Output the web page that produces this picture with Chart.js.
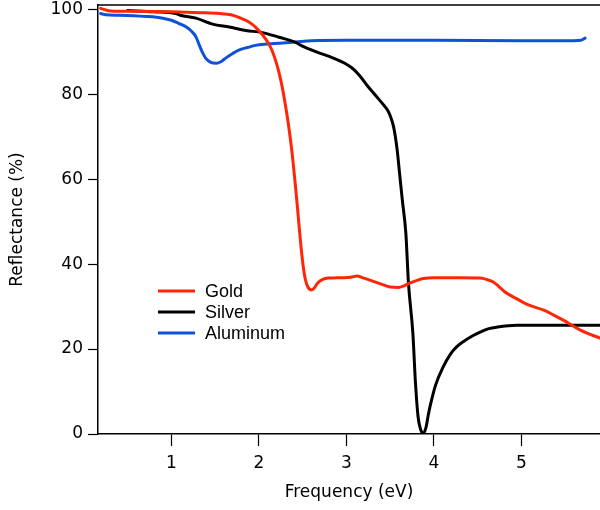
<!DOCTYPE html>
<html>
<head>
<meta charset="utf-8">
<script src="https://cdn.jsdelivr.net/npm/chart.js@4.4.1/dist/chart.umd.min.js"></script>
<style>
  html, body { margin: 0; padding: 0; background: #fff; }
  #wrap { width: 600px; height: 510px; }
</style>
</head>
<body>
<div id="wrap"><canvas id="myChart" width="600" height="510"></canvas></div>
<script>
// reflectance curves, photon energy in eV vs reflectance in %
const goldEv = [0.19, 0.3, 0.6, 1.0, 1.34, 1.55, 1.68, 1.78, 1.85, 1.92, 1.96, 2.04, 2.1, 2.15, 2.2, 2.24, 2.27, 2.3, 2.34, 2.38, 2.41, 2.44, 2.47, 2.50, 2.53, 2.56, 2.60, 2.63, 2.67, 2.73, 2.79, 2.95, 3.05, 3.12, 3.2, 3.3, 3.4, 3.5, 3.6, 3.65, 3.72, 3.8, 3.88, 4.0, 4.3, 4.53, 4.6, 4.68, 4.75, 4.81, 4.87, 4.95, 5.02, 5.12, 5.25, 5.37, 5.48, 5.58, 5.67, 5.78, 5.9];
const goldR = [100.2, 99.6, 99.5, 99.4, 99.2, 99.0, 98.7, 98.0, 97.4, 96.5, 95.8, 94.0, 92.3, 90.3, 87.3, 84.2, 81.3, 77.8, 72.5, 66, 60, 53.5, 46.5, 40.5, 36.5, 34.6, 33.9, 34.3, 35.5, 36.4, 36.7, 36.8, 36.9, 37.2, 36.7, 36.0, 35.3, 34.6, 34.5, 34.8, 35.5, 36.1, 36.6, 36.8, 36.8, 36.7, 36.4, 35.8, 34.6, 33.5, 32.7, 31.8, 31.0, 30.1, 29.2, 28.0, 26.8, 25.6, 24.5, 23.5, 22.6];

const silverEv = [0.5, 0.8, 1.05, 1.1, 1.28, 1.47, 1.66, 1.85, 2.04, 2.23, 2.42, 2.48, 2.65, 2.85, 3.05, 3.15, 3.24, 3.33, 3.42, 3.47, 3.5, 3.54, 3.58, 3.61, 3.64, 3.68, 3.71, 3.76, 3.79, 3.82, 3.85, 3.88, 3.91, 3.94, 3.98, 4.02, 4.1, 4.19, 4.26, 4.34, 4.45, 4.53, 4.63, 4.73, 4.85, 4.95, 5.3, 5.9];
const silverR = [99.7, 99.4, 99.0, 98.6, 97.9, 96.5, 95.8, 95.0, 94.5, 93.4, 92.2, 91.5, 90.0, 88.5, 86.4, 84.4, 82.0, 79.8, 77.6, 76.3, 75.0, 72.3, 67, 61, 55, 47.3, 35.5, 23.8, 12, 4, 1, 0.2, 1.5, 4.9, 8.5, 11.5, 15.5, 18.8, 20.5, 21.8, 23.2, 24.0, 24.8, 25.2, 25.5, 25.6, 25.6, 25.6];

const aluminumEv = [0.19, 0.25, 0.4, 0.71, 0.9, 1.0, 1.08, 1.17, 1.24, 1.28, 1.31, 1.35, 1.39, 1.45, 1.51, 1.57, 1.62, 1.7, 1.77, 1.87, 1.96, 2.1, 2.23, 2.42, 2.6, 3.0, 4.0, 5.0, 5.6, 5.68, 5.73];
const aluminumR = [99.0, 98.7, 98.6, 98.3, 97.9, 97.4, 96.7, 95.8, 94.6, 93.5, 92.0, 90.0, 88.5, 87.5, 87.3, 87.7, 88.5, 89.6, 90.4, 91.0, 91.5, 91.8, 92.0, 92.3, 92.6, 92.7, 92.7, 92.6, 92.6, 92.7, 93.2];

const xTicks = [1, 2, 3, 4, 5];
const yTicks = [0, 20, 40, 60, 80, 100];

const toPoints = (xs, ys) => xs.map((x, i) => ({ x: x, y: ys[i] }));

const tickFont = { family: 'DejaVu Sans', size: 17 };

// hand-placed legend plus the frame line along the top of the plot
const extras = {
  id: 'extras',
  afterDraw(chart) {
    const ctx = chart.ctx;
    const area = chart.chartArea;
    ctx.save();
    ctx.strokeStyle = '#000';
    ctx.lineWidth = 1.5;
    ctx.beginPath();
    ctx.moveTo(area.left, area.top);
    ctx.lineTo(area.right, area.top);
    ctx.stroke();

    ctx.font = '18px "Liberation Sans"';
    ctx.textBaseline = 'middle';
    chart.data.datasets.forEach((ds, i) => {
      const y = 291 + i * 21;
      ctx.strokeStyle = ds.borderColor;
      ctx.lineWidth = 3;
      ctx.beginPath();
      ctx.moveTo(158, y);
      ctx.lineTo(195, y);
      ctx.stroke();
      ctx.fillStyle = '#000';
      ctx.fillText(ds.label, 205, y + 1);
    });
    ctx.restore();
  }
};

const ctx = document.getElementById('myChart').getContext('2d');
const myChart = new Chart(ctx, {
  type: 'line',
  data: {
    datasets: [
      { label: 'Gold', data: toPoints(goldEv, goldR), borderColor: 'rgb(255, 38, 8)' },
      { label: 'Silver', data: toPoints(silverEv, silverR), borderColor: 'rgb(0, 0, 0)' },
      { label: 'Aluminum', data: toPoints(aluminumEv, aluminumR), borderColor: 'rgb(16, 82, 214)' }
    ]
  },
  options: {
    responsive: false,
    animation: false,
    layout: { padding: { top: 5, right: 0, left: 0, bottom: 0 } },
    elements: {
      point: { radius: 0 },
      line: { borderWidth: 3, cubicInterpolationMode: 'monotone', borderCapStyle: 'round', borderJoinStyle: 'round' }
    },
    plugins: { legend: { display: false }, tooltip: { enabled: false } },
    scales: {
      x: {
        type: 'linear',
        min: 0.16,
        max: 5.9,
        afterBuildTicks: s => { s.ticks = xTicks.map(v => ({ value: v })); },
        afterFit: s => { s.height = 76; s.paddingLeft = 0; s.paddingRight = 0; },
        grid: { drawOnChartArea: false, drawTicks: true, tickLength: 12, color: '#000', tickWidth: 1.2 },
        border: { display: true, color: '#000', width: 1.5 },
        ticks: { color: '#000', font: tickFont, padding: 7, maxRotation: 0 },
        title: { display: true, text: 'Frequency (eV)', color: '#000', font: tickFont, padding: { top: 0, bottom: 7 } }
      },
      y: {
        min: 0,
        max: 101,
        afterBuildTicks: s => { s.ticks = yTicks.map(v => ({ value: v })); },
        afterFit: s => { s.width = 98; s.paddingTop = 0; s.paddingBottom = 0; },
        grid: { drawOnChartArea: false, drawTicks: true, tickLength: 10, color: '#000', tickWidth: 1.2 },
        border: { display: true, color: '#000', width: 1.5 },
        ticks: { color: '#000', font: tickFont, padding: 5 },
        title: { display: true, text: 'Reflectance (%)', color: '#000', font: tickFont, padding: { top: 7, bottom: 0 } }
      }
    }
  },
  plugins: [extras]
});
</script>
</body>
</html>
